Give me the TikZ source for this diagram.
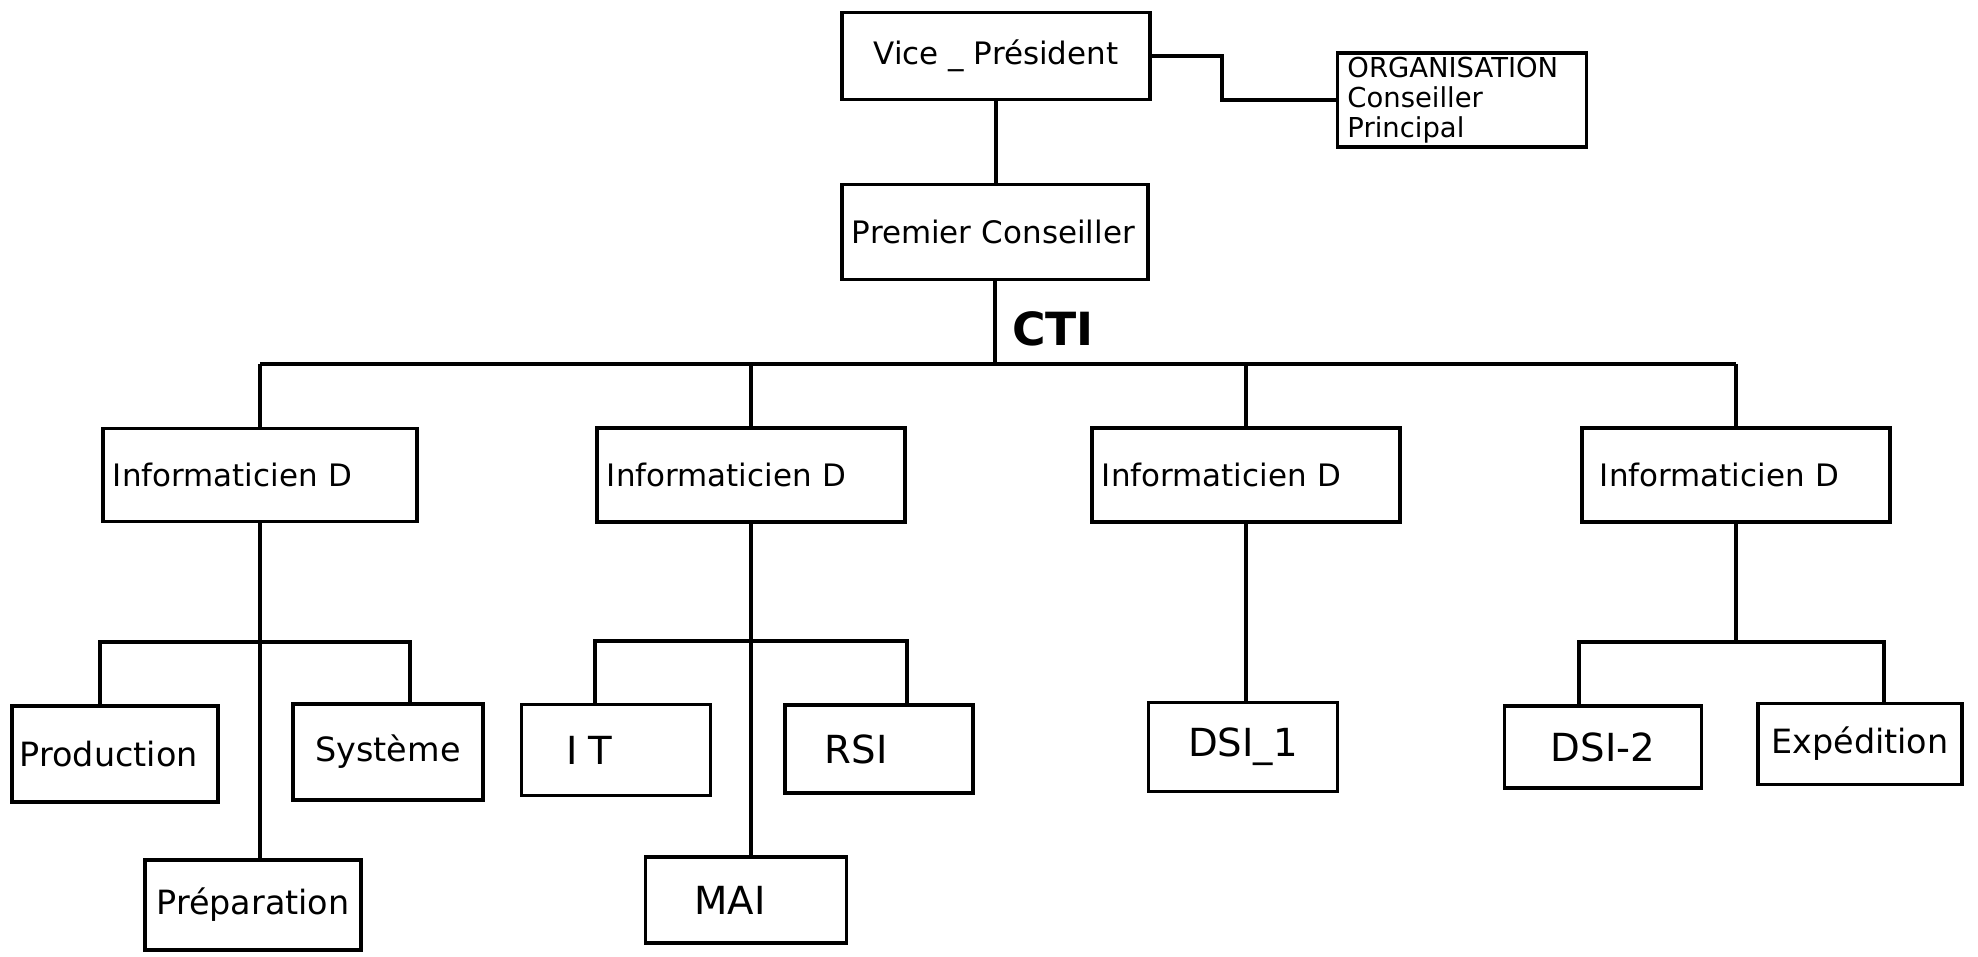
\documentclass[tikz,border=0pt]{standalone}
\usepackage{fontspec}
\setmainfont{DejaVu Sans}
\begin{document}
\begin{tikzpicture}[x=0.01cm, y=-0.01cm,
  poste/.style={draw, line width=1pt, inner xsep=0.1cm, inner ysep=0pt, font=\fontsize{8.8}{10}\selectfont},
  service/.style={draw, line width=1pt, inner ysep=0pt, font=\fontsize{9.5}{11}\selectfont},
  sigle/.style={draw, line width=1pt, inner ysep=0pt, font=\fontsize{11}{13}\selectfont},
  lien/.style={line width=1pt}]
\useasboundingbox (0,0) rectangle (1978,956);
% direction
\node[poste, minimum width=3.08cm, minimum height=0.87cm] (vp) at (996,56) {Vice \_ Président};
\node[poste, text width=2.29cm, align=left, inner ysep=1pt, minimum height=0.94cm, font=\fontsize{7.8}{8.6}\selectfont] (org) at (1462,100) {ORGANISATION\\Conseiller\\Principal};
\node[poste, text width=2.86cm, align=left, minimum height=0.95cm] (pc) at (995,232) {Premier Conseiller};
\node[font=\bfseries\fontsize{13}{15}\selectfont] (cti) at (1053,329) {CTI};
% informaticiens
\node[poste, text width=2.94cm, align=left, minimum height=0.93cm] (i1) at (260,475) {Informaticien D};
\node[poste, text width=2.88cm, align=left, minimum height=0.94cm] (i2) at (751,475) {Informaticien D};
\node[poste, text width=2.88cm, align=left, minimum height=0.94cm] (i3) at (1246,475) {Informaticien D};
\node[poste, text width=2.72cm, align=left, inner xsep=0.18cm, minimum height=0.94cm] (i4) at (1736,475) {Informaticien D};
% services
\node[service, text width=1.9cm, align=left, inner xsep=0.08cm, minimum height=0.96cm] (prod) at (115,754) {Production};
\node[service, minimum width=1.9cm, minimum height=0.96cm] (sys) at (388,752) {Système};
\node[service, minimum width=1.99cm, minimum height=0.9cm] (prep) at (253,905) {Préparation};
\node[sigle, text width=0.99cm, align=left, inner xsep=0.45cm, minimum height=0.91cm] (it) at (616,750) {I\kern3pt T};
\node[sigle, text width=1.08cm, align=left, inner xsep=0.4cm, minimum height=0.88cm] (rsi) at (879,749) {RSI};
\node[sigle, text width=1.03cm, align=left, inner xsep=0.49cm, minimum height=0.86cm] (mai) at (746,900) {MAI};
\node[sigle, minimum width=1.89cm, minimum height=0.89cm] (dsi1) at (1243,747) {DSI\_1};
\node[sigle, minimum width=1.97cm, minimum height=0.82cm] (dsi2) at (1603,747) {DSI-2};
\node[service, minimum width=2.04cm, minimum height=0.81cm] (exp) at (1860,744) {Expédition};

% liaisons du haut
\coordinate (coude) at (1222,100);
\coordinate (barre) at (995,364);
\draw[lien] (vp.south) -- (vp.south |- pc.north);
\draw[lien] (vp.east) -| (coude) -- (org.west);
\draw[lien] (pc.south) -- (pc.south |- barre);
\draw[lien] (i1.north |- barre) -- (i4.north |- barre);
\foreach \n in {i1,i2,i3,i4}
  \draw[lien] (\n.north) -- (\n.north |- barre);

% liaisons du bas
\coordinate (g1) at (100,642);
\coordinate (d1) at (410,642);
\draw[lien] (i1.south) -- (i1.south |- prep.north);
\draw[lien] (g1 |- prod.north) -- (g1) -- (d1) -- (d1 |- sys.north);
\coordinate (g2) at (595,641);
\coordinate (d2) at (907,641);
\draw[lien] (i2.south) -- (i2.south |- mai.north);
\draw[lien] (g2 |- it.north) -- (g2) -- (d2) -- (d2 |- rsi.north);
\draw[lien] (i3.south) -- (i3.south |- dsi1.north);
\coordinate (g4) at (1579,642);
\coordinate (d4) at (1884,642);
\draw[lien] (i4.south) -- (i4.south |- g4);
\draw[lien] (g4 |- dsi2.north) -- (g4) -- (d4) -- (d4 |- exp.north);
\end{tikzpicture}
\end{document}
